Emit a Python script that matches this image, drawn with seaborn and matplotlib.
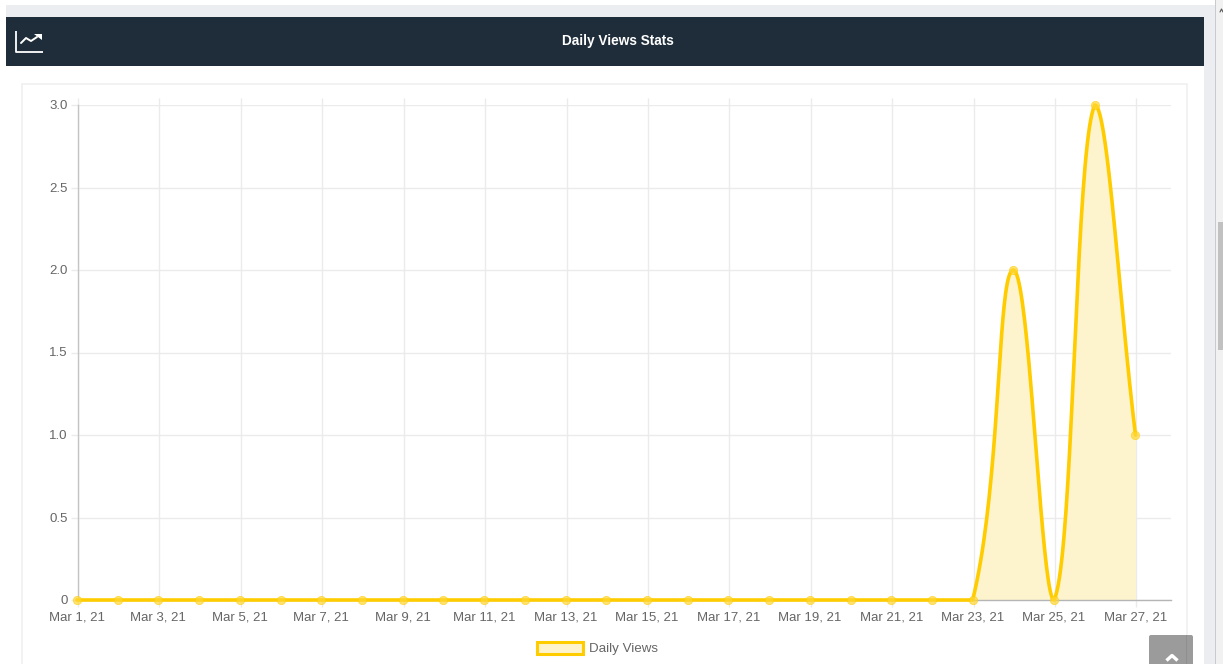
import numpy as np
import pandas as pd
import matplotlib
matplotlib.use("Agg")
import matplotlib.pyplot as plt
from matplotlib.patches import Rectangle, FancyBboxPatch, Patch, Polygon
from matplotlib.transforms import ScaledTranslation
import seaborn as sns

# ---- data ----
dates = [f"Mar {d}, 21" for d in range(1, 28)]
views = [0, 0, 0, 0, 0, 0, 0, 0, 0, 0, 0, 0, 0, 0, 0, 0, 0, 0, 0, 0, 0, 0, 0, 2, 0, 3, 1]
y_ticks = [0, 0.5, 1.0, 1.5, 2.0, 2.5, 3.0]
y_labels = ["0", "0.5", "1.0", "1.5", "2.0", "2.5", "3.0"]
title = "Daily Views Stats"
series_name = "Daily Views"

YELLOW = "#ffcc00"
FILL = "#fdf3cd"
GRID = "#ebebeb"
TEXT = "#666666"

sns.set_style("white")
plt.rcParams["font.family"] = ["Liberation Sans", "DejaVu Sans"]

W, H = 1223, 664
fig = plt.figure(figsize=(W / 100, H / 100), dpi=100, facecolor="white")

# page chrome, in pixel coordinates
bg = fig.add_axes([0, 0, 1, 1], zorder=0)
bg.set_xlim(0, W)
bg.set_ylim(H, 0)
bg.axis("off")
def rect(x0, y0, x1, y1, **kw):
    bg.add_patch(Rectangle((x0, y0), x1 - x0, y1 - y0, **kw))
rect(6, 5, 1215, 17, fc="#ebedf1", ec="none")
rect(1204, 5, 1215, H, fc="#ebedf1", ec="none")
rect(1215, 0, 1216, H, fc="#c9cacc", ec="none")
rect(1216, 0, W, H, fc="#f1f1f1", ec="none")
rect(1218, 222, W, 350, fc="#c1c1c1", ec="none")
rect(6, 17, 1204, 66, fc="#1f2d3a", ec="none")
rect(22, 84, 1186.5, H + 5, fc="white", ec="#f0f0f0", lw=1.2)
bg.plot([1220, 1221.5, 1223], [12, 9, 12], color="#555555", lw=0.8)

# header icon
bg.plot([15.5, 15.5, 43], [31, 52, 52], color="white", lw=1.3, solid_capstyle="butt")
bg.plot([21, 26, 31, 37], [43, 38, 41, 37], color="white", lw=1.4)
bg.add_patch(Polygon([[34, 34], [41.5, 34], [41.5, 40]], closed=True, fc="white", ec="none"))
bg.text(617.5, 41.5, title, color="white", fontsize=9.8, fontweight="bold",
        ha="center", va="center")

# back-to-top button
bg.add_patch(FancyBboxPatch((1151, 637), 40, 40, boxstyle="round,pad=2,rounding_size=2",
                            fc="#9b9b9b", ec="none"))
rect(1186, 635, 1187, H, fc="#8f8f8f", ec="none")
bg.plot([1166.5, 1172, 1177.5], [660.5, 655.5, 660.5], color="white", lw=2.4,
        solid_capstyle="butt")

# chart
L, R, T, B = 78, 1171, 105, 600
ax = fig.add_axes([L / W, 1 - B / H, (R - L) / W, (B - T) / H], zorder=1)
ax.patch.set_alpha(0)
x = np.arange(len(views), dtype=float)
y = np.array(views, dtype=float)
last = len(x) - 1
px_per_day = (1136.5 - L) / last
ax.set_xlim(0, (R - L) / px_per_day)
ax.set_ylim(0, 3)
px_per_unit = (B - T) / 3
shift = ax.transData + ScaledTranslation(-1 / 100, 0, fig.dpi_scale_trans)

def spline(xs, ys, tension=0.4, samples=40):
    """Bezier smoothing (tension 0.4, control points capped to the plot area)."""
    px, py = xs * px_per_day, ys * px_per_unit
    n = len(px)
    cp_in, cp_out = np.zeros((n, 2)), np.zeros((n, 2))
    for i in range(n):
        a, b = max(i - 1, 0), min(i + 1, n - 1)
        d01 = np.hypot(px[i] - px[a], py[i] - py[a])
        d12 = np.hypot(px[b] - px[i], py[b] - py[i])
        total = d01 + d12
        vx, vy = px[b] - px[a], py[b] - py[a]
        cp_in[i] = px[i] - tension * d01 / total * vx, py[i] - tension * d01 / total * vy
        cp_out[i] = px[i] + tension * d12 / total * vx, py[i] + tension * d12 / total * vy
    cp_in[:, 1] = np.clip(cp_in[:, 1], 0, 3 * px_per_unit)
    cp_out[:, 1] = np.clip(cp_out[:, 1], 0, 3 * px_per_unit)
    t = np.linspace(0, 1, samples, endpoint=False)[:, None]
    parts = []
    for i in range(n - 1):
        p0, p3 = np.array([px[i], py[i]]), np.array([px[i + 1], py[i + 1]])
        parts.append((1 - t) ** 3 * p0 + 3 * (1 - t) ** 2 * t * cp_out[i]
                     + 3 * (1 - t) * t ** 2 * cp_in[i + 1] + t ** 3 * p3)
    parts.append(np.array([[px[-1], py[-1]]]))
    c = np.vstack(parts)
    return c[:, 0] / px_per_day, c[:, 1] / px_per_unit

sx, sy = spline(x, y)
curve = pd.DataFrame({"x": sx, "y": sy})
points = pd.DataFrame({"x": x, "y": y})

ax.fill_between(sx, 0, sy, color=FILL, lw=0, zorder=2, transform=shift)
sns.lineplot(data=curve, x="x", y="y", ax=ax, color=YELLOW, lw=2.6, sort=False,
             estimator=None, clip_on=False, zorder=4, solid_joinstyle="round", transform=shift)
sns.scatterplot(data=points, x="x", y="y", ax=ax, s=36, color="#ffd633", alpha=0.7,
                edgecolor=YELLOW, linewidth=0.5, clip_on=False, zorder=5, transform=shift)

tick_pos = x[::2]
ax.set_xticks(tick_pos)
ax.set_xticklabels(dates[::2])
ax.set_yticks(y_ticks)
ax.set_yticklabels(y_labels)
ax.set_xlabel("")
ax.set_ylabel("")
ax.grid(True, color=GRID, lw=1.0, zorder=0)
ax.set_axisbelow(True)
ax.tick_params(axis="x", length=5, width=1.0, color=GRID, labelcolor=TEXT, labelsize=9.5,
               pad=3.0, bottom=True, top=True)
ax.tick_params(axis="y", length=5, width=1.0, color=GRID, labelcolor=TEXT, labelsize=9.5,
               pad=2.6, left=True)
label_shift = ScaledTranslation(-1 / 100, 0, fig.dpi_scale_trans)
for lab in ax.get_xticklabels():
    lab.set_transform(lab.get_transform() + label_shift)
for lab in ax.get_yticklabels():
    lab.set_transform(lab.get_transform() + ScaledTranslation(0, 0.5 / 100, fig.dpi_scale_trans))
for side in ("top", "right"):
    ax.spines[side].set_visible(False)
ax.spines["left"].set_color("#c4c4c4")
ax.spines["bottom"].set_color("#b5b5b5")
ax.spines["left"].set_linewidth(1.0)
ax.spines["bottom"].set_linewidth(1.0)
first = ax.xaxis.get_major_ticks()[0]
first.tick1line.set_color("#c4c4c4")
first.tick2line.set_color("#c4c4c4")

leg = ax.legend(handles=[Patch(fc=FILL, ec=YELLOW, lw=2.2, label=series_name)],
                loc="center left", bbox_to_anchor=(532 / W, 1 - 648.5 / H),
                bbox_transform=fig.transFigure, frameon=False, fontsize=9.6,
                labelcolor=TEXT, handlelength=3.4, handleheight=1.0, handletextpad=0.5,
                borderaxespad=0, borderpad=0.4)
leg.set_clip_on(False)

fig.savefig("out.png", dpi=100, facecolor="white")
